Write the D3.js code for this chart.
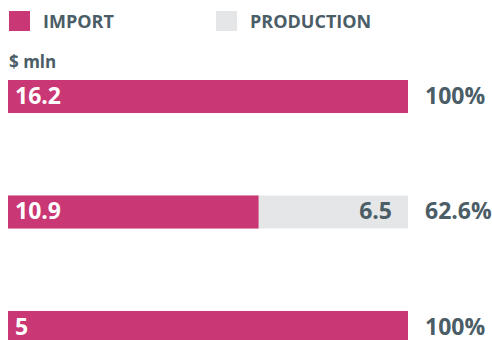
<!DOCTYPE html>
<html>
<head>
<meta charset="utf-8">
<script src="https://cdn.jsdelivr.net/npm/d3@7"></script>
<style>
  html, body { margin: 0; padding: 0; background: #fff; }
  svg { display: block; font-family: "Open Sans", "DejaVu Sans", sans-serif; font-weight: 700; }
</style>
</head>
<body>
<svg id="chart" width="492" height="340"></svg>
<script>
// Three rows of spending, split into import and domestic production ($ mln)
const rows = ["row1", "row2", "row3"];
const importVals = [16.2, 10.9, 5];
const productionVals = [0, 6.5, 0];
const seriesNames = ["IMPORT", "PRODUCTION"];
const seriesColors = ["#c93874", "#e5e6e8"];
const unitLabel = "$ mln";

const svg = d3.select("#chart");
const textColor = "#4b5d66";

// Legend
const legend = svg.append("g");
const legendX = [9, 216];
seriesNames.forEach((name, i) => {
  const g = legend.append("g").attr("transform", `translate(${legendX[i]},11)`);
  g.append("rect").attr("width", 21).attr("height", 20).attr("fill", seriesColors[i]);
  g.append("text").attr("x", 34).attr("y", 16.5)
    .attr("font-size", 18).attr("fill", textColor).text(name);
});

svg.append("text").attr("x", 9).attr("y", 68)
  .attr("font-size", 17).attr("fill", textColor).text(unitLabel);

// Scales: each bar shows shares of its own total
const x = d3.scaleLinear().domain([0, 1]).range([8, 408]);
const y = d3.scaleBand().domain(rows).range([80, 344]).paddingInner(0.714).paddingOuter(0);

const data = rows.map((r, i) => {
  const total = importVals[i] + productionVals[i];
  return { row: r, imp: importVals[i], prod: productionVals[i], share: importVals[i] / total };
});

const bars = svg.append("g").selectAll("g").data(data).join("g")
  .attr("transform", d => `translate(0,${y(d.row)})`);

bars.append("rect")
  .attr("x", x(0)).attr("width", d => x(1) - x(0))
  .attr("height", y.bandwidth()).attr("fill", seriesColors[1]);

bars.append("rect")
  .attr("x", x(0)).attr("width", d => x(d.share) - x(0))
  .attr("height", y.bandwidth()).attr("fill", seriesColors[0]);

const mid = y.bandwidth() / 2 - 1;

bars.append("text")
  .attr("x", x(0) + 7).attr("y", mid).attr("dy", "0.36em")
  .attr("font-size", 23).attr("fill", "#fff")
  .text(d => d3.format("~g")(d.imp));

bars.filter(d => d.prod > 0).append("text")
  .attr("x", x(1) - 16).attr("y", mid).attr("dy", "0.36em")
  .attr("text-anchor", "end")
  .attr("font-size", 23).attr("fill", textColor)
  .text(d => d3.format("~g")(d.prod));

bars.append("text")
  .attr("x", 425).attr("y", mid).attr("dy", "0.36em")
  .attr("font-size", 23).attr("fill", textColor)
  .text(d => d3.format(".3~r")(d.share * 100) + "%");
</script>
</body>
</html>
